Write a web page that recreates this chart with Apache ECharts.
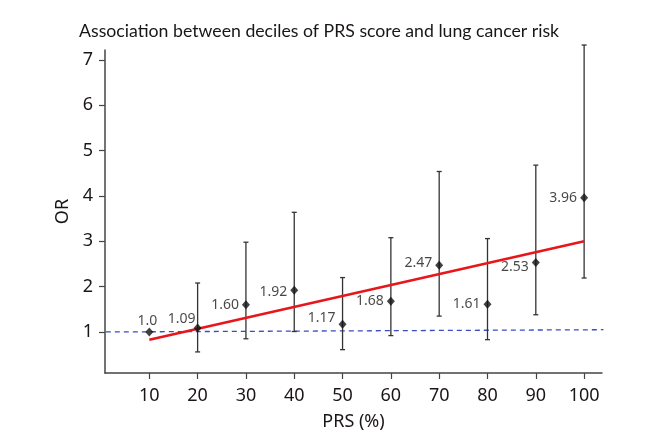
<!DOCTYPE html>
<html>
<head>
<meta charset="utf-8">
<script src="https://cdn.jsdelivr.net/npm/echarts@6/dist/echarts.min.js"></script>
<style>
  html, body { margin: 0; padding: 0; background: #fff; }
  #main { width: 648px; height: 448px; }
</style>
</head>
<body>
<div id="main"></div>
<script>
// 数据
const deciles = [10, 20, 30, 40, 50, 60, 70, 80, 90, 100];
const orValues = [1.0, 1.09, 1.60, 1.92, 1.17, 1.68, 2.47, 1.61, 2.53, 3.96];
const orLabels = ['1.0', '1.09', '1.60', '1.92', '1.17', '1.68', '2.47', '1.61', '2.53', '3.96'];
const ciLower = [null, 0.56, 0.85, 1.01, 0.61, 0.92, 1.35, 0.83, 1.38, 2.19];
const ciUpper = [null, 2.08, 2.98, 3.64, 2.20, 3.08, 4.54, 3.06, 4.68, 7.33];
const trendX = [10, 100];
const trendY = [0.83, 3.0];
const refX = [1, 104];
const refY = [1.0, 1.05];
const yTicks = [1, 2, 3, 4, 5, 6, 7];
const xTicks = deciles;

const FONT = 'Noto Sans';
const TXT = '#1a1617';

// 标签位置
const labelPlace = ['top', 'top', 'left', 'left', 'left', 'left', 'left', 'left', 'left', 'left'];
const labelOffset = [[-2, 4], [-16, 6], [0, 0], [0, 2], [0, -6], [0, 0], [0, -2], [0, 0], [0, 4], [0, 0]];

let myChart = echarts.init(document.getElementById('main'));

let errData = deciles.map((x, i) => [x, ciLower[i], ciUpper[i]]).filter(d => d[1] != null);

myChart.setOption({
  animation: false,
  title: {
    text: 'Association between deciles of PRS score and lung cancer risk',
    left: 79,
    top: 22,
    padding: 0,
    textStyle: { fontFamily: 'Lato', fontSize: 17.7, fontWeight: 'normal', color: TXT }
  },
  grid: { left: 105, right: 46, top: 50, bottom: 75 },
  xAxis: {
    type: 'value',
    min: 0.83,
    max: 103.7,
    name: 'PRS (%)',
    nameLocation: 'middle',
    nameGap: 40,
    nameTextStyle: { fontFamily: FONT, fontSize: 18, color: TXT },
    axisLine: { lineStyle: { color: '#444', width: 1.5 } },
    axisTick: { customValues: xTicks, length: 6, lineStyle: { color: '#444', width: 1.2 } },
    axisLabel: { customValues: xTicks, fontFamily: FONT, fontSize: 18, color: TXT, margin: 14 },
    splitLine: { show: false }
  },
  yAxis: {
    type: 'value',
    min: 0.095,
    max: 7.22,
    name: 'OR',
    nameLocation: 'middle',
    nameGap: 33,
    nameTextStyle: { fontFamily: FONT, fontSize: 18, color: TXT },
    axisLine: { show: true, lineStyle: { color: '#444', width: 1.5 } },
    axisTick: { show: true, customValues: yTicks, length: 6, lineStyle: { color: '#444', width: 1.2 } },
    axisLabel: { customValues: yTicks, fontFamily: FONT, fontSize: 18, color: TXT, margin: 12 },
    splitLine: { show: false }
  },
  series: [
    {
      // 参考线
      type: 'line',
      data: refX.map((x, i) => [x, refY[i]]),
      symbol: 'none',
      lineStyle: { color: '#3b4cc0', width: 1.3, type: [5, 4] },
      z: 1
    },
    {
      // 误差线
      type: 'custom',
      data: errData,
      renderItem: function (params, api) {
        let x = api.value(0);
        let lo = api.coord([x, api.value(1)]);
        let hi = api.coord([x, api.value(2)]);
        let w = 2.5;
        let st = { stroke: '#333', lineWidth: 1.3 };
        return {
          type: 'group',
          children: [
            { type: 'line', shape: { x1: lo[0], y1: lo[1], x2: hi[0], y2: hi[1] }, style: st },
            { type: 'line', shape: { x1: lo[0] - w, y1: lo[1], x2: lo[0] + w, y2: lo[1] }, style: st },
            { type: 'line', shape: { x1: hi[0] - w, y1: hi[1], x2: hi[0] + w, y2: hi[1] }, style: st }
          ]
        };
      },
      z: 2
    },
    {
      // 趋势线
      type: 'line',
      data: trendX.map((x, i) => [x, trendY[i]]),
      symbol: 'none',
      lineStyle: { color: '#e8161b', width: 2.5 },
      z: 3
    },
    {
      // 点
      type: 'scatter',
      data: deciles.map((x, i) => ({
        value: [x, orValues[i]],
        label: {
          show: true,
          formatter: orLabels[i],
          position: labelPlace[i],
          offset: labelOffset[i],
          distance: 3,
          fontFamily: FONT,
          fontSize: 14,
          color: TXT
        }
      })),
      symbol: 'diamond',
      symbolSize: [8, 9],
      itemStyle: { color: '#111' },
      z: 4
    }
  ]
});
</script>
</body>
</html>
